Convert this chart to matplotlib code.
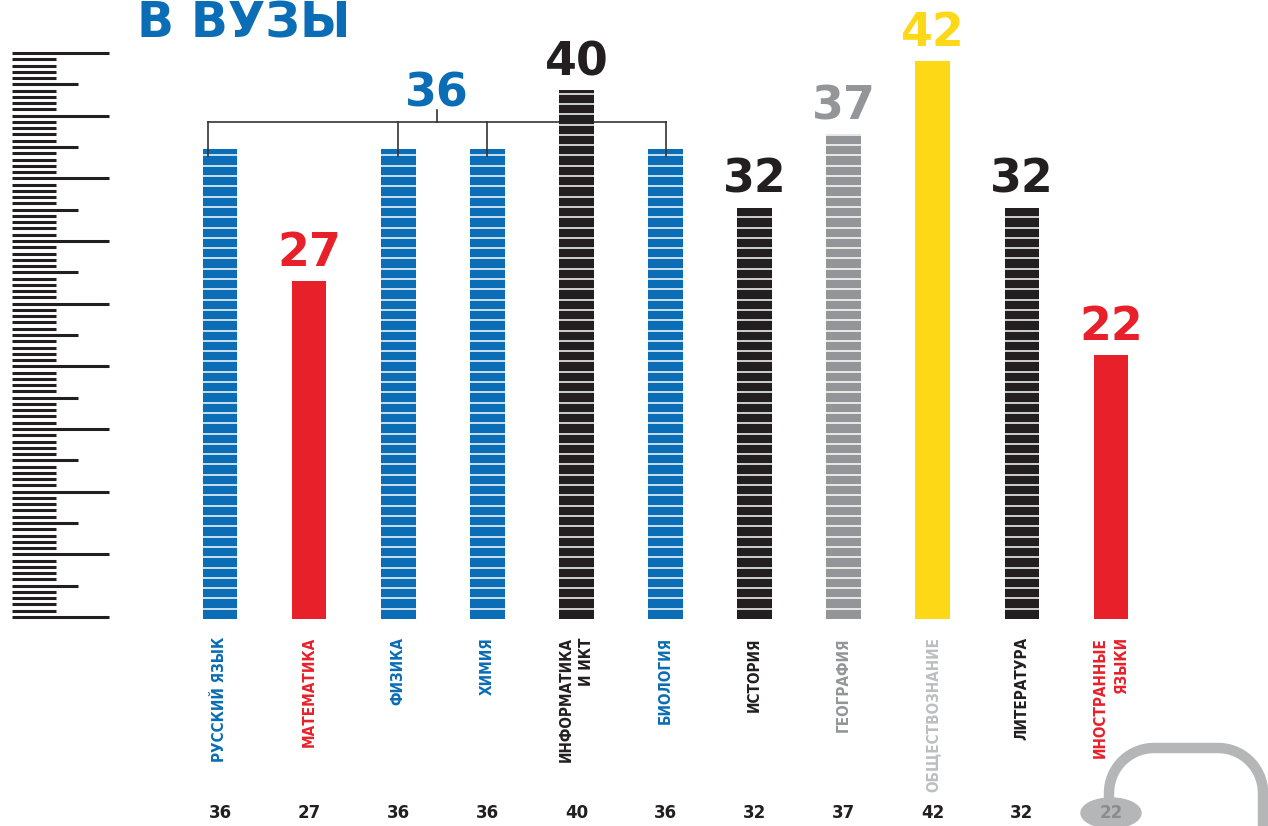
import numpy as np
import matplotlib
matplotlib.use('Agg')
import matplotlib.pyplot as plt
from matplotlib.patches import Ellipse

BLUE = '#0a6db5'
RED = '#e8202a'
BLACK = '#231f20'
GRAY = '#939598'
YELLOW = '#fcd817'
LIGHT = '#bcbec0'

# data
subjects = ['РУССКИЙ ЯЗЫК', 'МАТЕМАТИКА', 'ФИЗИКА', 'ХИМИЯ', 'ИНФОРМАТИКА\nИ ИКТ',
            'БИОЛОГИЯ', 'ИСТОРИЯ', 'ГЕОГРАФИЯ', 'ОБЩЕСТВОЗНАНИЕ', 'ЛИТЕРАТУРА',
            'ИНОСТРАННЫЕ\nЯЗЫКИ']
scores = [36, 27, 36, 36, 40, 36, 32, 37, 42, 32, 22]
bar_colors = [BLUE, RED, BLUE, BLUE, BLACK, BLUE, BLACK, GRAY, YELLOW, BLACK, RED]
label_colors = [BLUE, RED, BLUE, BLUE, BLACK, BLUE, BLACK, GRAY, LIGHT, BLACK, RED]
striped = [True, False, True, True, True, True, True, True, False, True, False]
in_group = [True, False, True, True, False, True, False, False, False, False, False]
group_score = 36

W, H = 1268, 826
PX = 14.7      # pixels per score point
Y0 = 4.04      # score at the baseline
BASE = 619     # baseline, pixels from top

fig = plt.figure(figsize=(W / 100, H / 100), dpi=100)

# background layer in pixel coordinates: ruler and the hook at the bottom right
bg = fig.add_axes([0, 0, 1, 1])
bg.set_xlim(0, W)
bg.set_ylim(H, 0)
bg.axis('off')

for k in range(91):
    y = 53 + k * 564 / 90
    if k % 10 == 0:
        x1 = 109
    elif k % 5 == 0:
        x1 = 78
    else:
        x1 = 56
    bg.plot([12, x1], [y, y], color=BLACK, lw=2.2, solid_capstyle='butt')

r = 45
t1 = np.linspace(np.pi, 1.5 * np.pi, 30)
t2 = np.linspace(1.5 * np.pi, 2 * np.pi, 30)
hx = np.concatenate([[1109], 1154 + r * np.cos(t1), 1218 + r * np.cos(t2), [1263]])
hy = np.concatenate([[800], 793 + r * np.sin(t1), 793 + r * np.sin(t2), [830]])
bg.plot(hx, hy, color='#b5b6b8', lw=7.5, solid_capstyle='butt', clip_on=False)

fig.text(137 / W, 1 - 38 / H, 'В ВУЗЫ', fontsize=35, fontweight='bold',
         color=BLUE, va='baseline')

# bars
xl = 220 - 44.55
ax = fig.add_axes([xl / W, (H - BASE) / H, 980.1 / W, BASE / H])
ax.set_xlim(-0.5, 10.5)
ax.set_ylim(Y0, Y0 + BASE / PX)
ax.axis('off')

x = np.arange(len(scores))
bw = 0.39
ax.bar(x, scores, width=bw, color=bar_colors, zorder=2)

step = 10.3 / PX
for i, v in enumerate(scores):
    if striped[i]:
        ys = np.arange(Y0 + step, v, step)
        ax.hlines(ys, i - bw / 2, i + bw / 2, color='white', lw=1.1, zorder=3)

for i, v in enumerate(scores):
    if in_group[i]:
        continue
    ax.annotate(str(v), (i, v), xytext=(0, 11), textcoords='offset points',
                ha='center', va='baseline', fontsize=33, fontweight='bold',
                color=bar_colors[i])

# bracket over the blue group
gx = [i for i in x if in_group[i]]
tips = [gx[0] - 0.13] + gx[1:]
yl = group_score + 27 / PX
ax.plot([tips[0], tips[-1]], [yl, yl], color='#333333', lw=1.2, zorder=1)
for t in tips:
    ax.plot([t, t], [yl, group_score - 7 / PX], color='#333333', lw=1.2, zorder=4)
xc = (tips[0] + tips[-1]) / 2
ax.plot([xc, xc], [yl, group_score + 39 / PX], color='#333333', lw=1.2)
ax.annotate(str(group_score), (xc, group_score), xytext=(0, 31),
            textcoords='offset points', ha='center', va='baseline',
            fontsize=33, fontweight='bold', color=BLUE)

# subject names under the bars
for i, name in enumerate(subjects):
    ax.annotate(name, (i, 0), xycoords=('data', 'axes fraction'),
                xytext=(0, -13), textcoords='offset points', rotation=90,
                ha='center', va='top', multialignment='right',
                fontsize=11, fontstretch='condensed', fontweight='bold',
                color=label_colors[i], linespacing=1.5, family='DejaVu Sans')

# score row at the bottom
yb = Y0 - 194 / PX
for i, v in enumerate(scores):
    if i == len(scores) - 1:
        ax.add_patch(Ellipse((i, yb), 60 / 89.1, 30 / PX, color='#b5b6b8',
                             clip_on=False, zorder=2))
        c = '#8a8c8e'
    else:
        c = BLACK
    ax.text(i, yb, str(v), ha='center', va='center', fontsize=12,
            fontweight='bold', color=c, clip_on=False, zorder=3)

fig.savefig('out.png', dpi=100)
